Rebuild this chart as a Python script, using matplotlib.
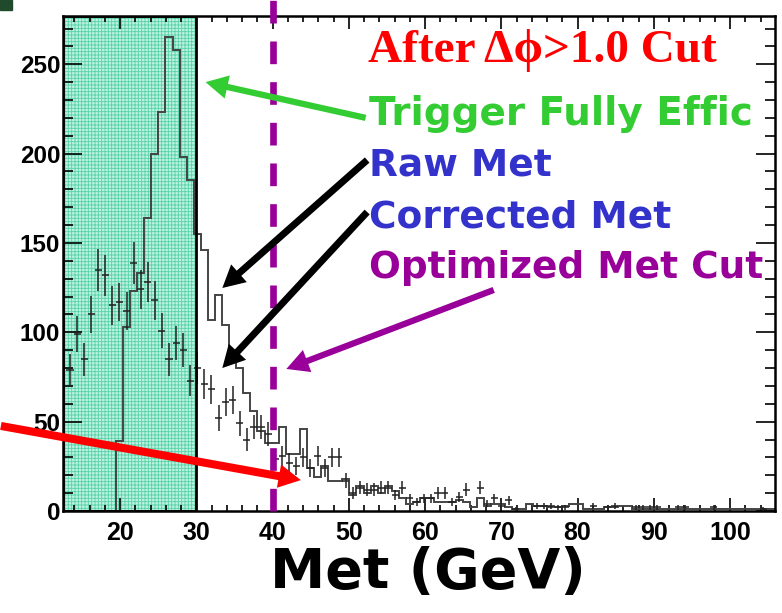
import numpy as np
import matplotlib
matplotlib.use("Agg")
import matplotlib.pyplot as plt
from matplotlib.patches import Rectangle

# binning of the two Met histograms (GeV)
bin_lo = 12.95
bin_w = 0.928

# Raw Met (solid histogram)
raw_met = [0, 0, 0, 0, 0, 0, 0, 39, 103, 123,
           133, 164, 200, 223, 265, 258, 198, 185, 155, 146,
           107, 121, 104, 84, 80, 66, 56, 45, 38, 38,
           47, 32, 32, 46, 24, 19, 25, 17, 17, 18,
           9, 14, 10, 14, 10, 14, 11, 7, 4, 5,
           7, 7, 5, 5, 5, 6, 5, 2, 7, 3,
           4, 4, 2, 1, 1, 4, 3, 3, 2, 2,
           3, 4, 4, 1, 1, 1, 2, 2, 3, 3,
           1, 1, 1, 1, 1, 1, 1, 1, 1, 1,
           1, 1, 1, 1, 1, 1, 1, 1, 1, 1]

# Corrected Met (points with errors)
corr_met = [79, 99, 85, 110, 135, 132, 115, 117, 112, 139,
            124, 128, 118, 101, 85, 94, 90, 73, 80, 71,
            68, 52, 61, 62, 49, 40, 47, 47, 43, 29,
            31, 27, 25, 30, 24, 31, 24, 30, 30, 17,
            10, 13, 12, 12, 13, 13, 9, 13, 7, 5,
            7, 7, 10, 10, 5, 8, 12, 0, 13, 4,
            7, 3, 6, 1, 0, 0, 3, 3, 3, 2,
            2, 0, 0, 0, 3, 0, 2, 3, 0, 0,
            2, 2, 2, 2, 0, 0, 2, 2, 0, 0,
            0, 2, 0, 0, 0, 0, 0, 0, 1, 0]

trigger_cut = 30.0
met_cut = 40.0
x_range = (12.5, 105.9)
y_range = (0, 277)

raw_met = np.array(raw_met, dtype=float)
corr_met = np.array(corr_met, dtype=float)
edges = bin_lo + bin_w * np.arange(len(raw_met) + 1)
centers = 0.5 * (edges[1:] + edges[:-1])

plt.rcParams['font.family'] = ['Liberation Sans', 'DejaVu Sans']
plt.rcParams['font.weight'] = 'bold'
plt.rcParams['hatch.linewidth'] = 0.6

W, H = 782, 613
fig = plt.figure(figsize=(W / 100, H / 100), dpi=100)
ax = fig.add_axes([63 / W, 1 - 511 / H, (775 - 63) / W, (511 - 16) / H])

# trigger not fully efficient region
ax.axvspan(x_range[0], trigger_cut, facecolor='#bff0e0', edgecolor='#55d4a8',
           hatch='+++++', lw=0, zorder=0)
ax.add_patch(Rectangle((x_range[0], 0), trigger_cut - x_range[0], y_range[1],
                       fill=False, ec='black', lw=2, zorder=4))

ax.stairs(raw_met, edges, color='#444444', lw=1.4, zorder=2)

m = corr_met > 0
ax.errorbar(centers[m], corr_met[m], yerr=np.sqrt(corr_met[m]), xerr=bin_w / 2,
            fmt='none', ecolor='#222222', elinewidth=1.1, capsize=0, zorder=3)

# optimized cut
ax.plot([met_cut, met_cut], [0, y_range[1] + 9], color='#990099', lw=4.8,
        dashes=(3.4, 2.7), clip_on=False, zorder=5)

ax.set_xlim(*x_range)
ax.set_ylim(*y_range)
ax.set_xticks(np.arange(20, 101, 10))
ax.set_xticks(np.arange(14, 106, 2), minor=True)
ax.set_yticks(np.arange(0, 251, 50))
ax.set_yticks(np.arange(0, 277, 10), minor=True)
ax.tick_params(which='both', direction='in', top=True, right=True, color='black', width=1.2)
ax.tick_params(axis='x', which='major', length=9.5, pad=7, labelsize=18)
ax.tick_params(axis='x', which='minor', length=4.5)
ax.tick_params(axis='y', which='major', length=13.5, pad=2, labelsize=17.5)
ax.tick_params(axis='y', which='minor', length=7)
for sp in ax.spines.values():
    sp.set_linewidth(1.8)

ax.set_xlabel('Met (GeV)', fontsize=40, fontweight='bold', family='DejaVu Sans')
ax.xaxis.set_label_coords(0.513, -0.07, transform=ax.transAxes)
ax.xaxis.label.set_va('top')

# annotations
def px(x, y):
    return x / W, 1 - y / H

fig.text(*px(368, 62), 'After \u0394\u03d5>1.0 Cut', color='#ff0000', fontsize=34,
         fontweight='bold', family=['Liberation Serif', 'DejaVu Serif'], va='baseline')
labels = [('Trigger Fully Effic', '#33cc33', 125, 28),
          ('Raw Met', '#3333cc', 175, 27),
          ('Corrected Met', '#3333cc', 228, 27),
          ('Optimized Met Cut', '#990099', 278, 27)]
for txt, col, yb, fs in labels:
    fig.text(*px(369, yb), txt, color=col, fontsize=fs, fontweight='bold',
             family='DejaVu Sans', va='baseline')

arrows = [((52.2, 220), (31.2, 240), '#33cc33', 4.5),
          ((52.4, 196.4), (33.4, 124.8), 'black', 5.0),
          ((52.4, 167.3), (33.4, 80.0), 'black', 5.0),
          ((69.0, 123.7), (41.8, 79.5), '#990099', 4.5),
          ((4.35, 47.6), (43.7, 17.3), '#ff0000', 5.8)]
for tail, tip, col, tw in arrows:
    ax.annotate('', xy=tip, xytext=tail, annotation_clip=False,
                arrowprops=dict(arrowstyle=f'simple,head_length=16,head_width=17,tail_width={tw}',
                                mutation_scale=1, color=col, lw=0,
                                shrinkA=0, shrinkB=0), zorder=6)

fig.patches.append(Rectangle((0, 1 - 10 / H), 12 / W, 10 / H, transform=fig.transFigure,
                             color='#1f4a2c', figure=fig))

fig.savefig('out.png', dpi=100)
